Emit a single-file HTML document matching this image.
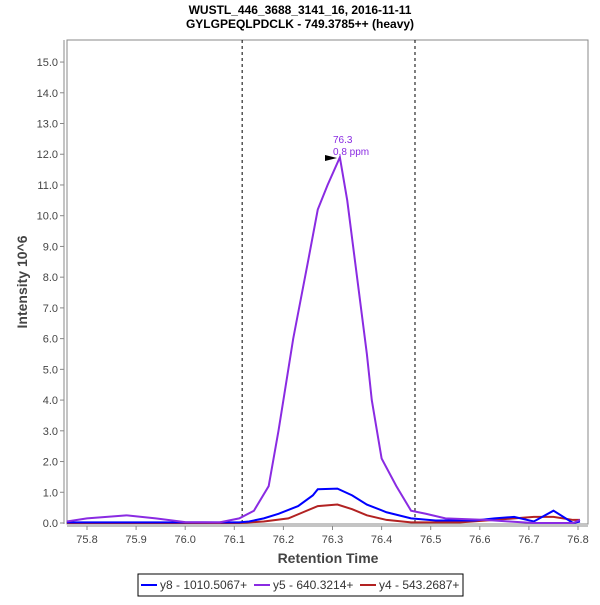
<!DOCTYPE html>
<html><head><meta charset="utf-8"><style>
body{margin:0;background:#fff;font-family:"Liberation Sans",sans-serif}
svg text{font-family:"Liberation Sans",sans-serif}
</style></head><body>
<svg id="c" width="600" height="600">
<text x="300" y="14" text-anchor="middle" font-size="12" font-weight="bold" fill="#000">WUSTL_446_3688_3141_16, 2016-11-11</text>
<text x="300" y="28" text-anchor="middle" font-size="12" font-weight="bold" fill="#000">GYLGPEQLPDCLK - 749.3785++ (heavy)</text>
<rect x="67" y="40" width="521" height="484" fill="#fff" stroke="#888"/>
<g id="axes"></g><g id="series"></g>
<text x="328" y="563" text-anchor="middle" font-size="14" font-weight="bold" fill="#444">Retention Time</text>
<text transform="translate(27,282) rotate(-90)" text-anchor="middle" font-size="14" font-weight="bold" fill="#444">Intensity 10^6</text>
<text x="333" y="143" font-size="10" fill="#8a2be2">76.3</text>
<text x="333" y="155" font-size="10" fill="#8a2be2">0.8 ppm</text>
<polygon points="325,155 337,158 325,161" fill="#000"/>
<g>
<rect x="138" y="574" width="325" height="22" fill="#fff" stroke="#000"/>
<line x1="141" y1="585" x2="157" y2="585" stroke="#0000ff" stroke-width="2"/>
<text x="160" y="589" font-size="12" fill="#333">y8 - 1010.5067+</text>
<line x1="254" y1="585" x2="270" y2="585" stroke="#8a2be2" stroke-width="2"/>
<text x="273" y="589" font-size="12" fill="#333">y5 - 640.3214+</text>
<line x1="360" y1="585" x2="376" y2="585" stroke="#b22222" stroke-width="2"/>
<text x="379" y="589" font-size="12" fill="#333">y4 - 543.2687+</text>
</g>
</svg>
<script>
const xTicks=[75.8,75.9,76.0,76.1,76.2,76.3,76.4,76.5,76.6,76.7,76.8];
const yTicks=[0,1,2,3,4,5,6,7,8,9,10,11,12,13,14,15];
const boundaries=[76.116,76.468];
const y5T=[75.759,75.8,75.88,75.94,76.0,76.07,76.11,76.14,76.17,76.19,76.22,76.25,76.27,76.29,76.315,76.33,76.35,76.37,76.38,76.4,76.43,76.46,76.49,76.53,76.61,76.66,76.71,76.79,76.804];
const y5V=[0.05,0.15,0.25,0.15,0.03,0.02,0.15,0.4,1.2,3.0,6.0,8.5,10.2,11.0,11.9,10.5,8.0,5.5,4.0,2.1,1.2,0.4,0.3,0.15,0.1,0.05,0.0,0.0,0.1];
const y8T=[75.759,76.11,76.13,76.16,76.19,76.23,76.26,76.27,76.31,76.34,76.37,76.41,76.46,76.51,76.59,76.63,76.67,76.71,76.75,76.79,76.804];
const y8V=[0.02,0.02,0.05,0.15,0.3,0.55,0.9,1.1,1.12,0.9,0.6,0.35,0.15,0.08,0.08,0.15,0.2,0.05,0.4,0.0,0.05];
const y4T=[75.759,76.11,76.16,76.21,76.24,76.27,76.31,76.34,76.37,76.41,76.46,76.56,76.63,76.71,76.75,76.79,76.804];
const y4V=[0.0,0.0,0.05,0.15,0.35,0.55,0.6,0.45,0.25,0.1,0.02,0.02,0.1,0.2,0.2,0.1,0.1];
const NS='http://www.w3.org/2000/svg';
const X=v=>87+(v-75.8)*491, Y=v=>523-v*30.73;
function mk(t,a,p){const e=document.createElementNS(NS,t);for(const k in a)e.setAttribute(k,a[k]);p.appendChild(e);return e;}
const ax=document.getElementById('axes'), se=document.getElementById('series');
const xl=mk('line',{x1:67,y1:526,x2:588,y2:526,stroke:'#888'},ax);


xTicks.forEach(v=>{
 mk('line',{x1:X(v),y1:526,x2:X(v),y2:530,stroke:'#888'},ax);
 const t=mk('text',{x:X(v),y:543,'text-anchor':'middle','font-size':11,fill:'#444'},ax);t.textContent=v.toFixed(1);
 
 
});
const yl=mk('line',{x1:64,y1:40,x2:64,y2:524,stroke:'#888'},ax);


yTicks.forEach(v=>{
 mk('line',{x1:60,y1:Y(v),x2:64,y2:Y(v),stroke:'#888'},ax);
 const t=mk('text',{x:58,y:Y(v)+4,'text-anchor':'end','font-size':11,fill:'#444'},ax);t.textContent=v.toFixed(1);
 
 
});
boundaries.forEach(v=>{
 const l=mk('line',{x1:X(v),y1:40,x2:X(v),y2:524,stroke:'#000','stroke-dasharray':'3,3'},ax);
 
 
});
function line(T,V,c,n){
 const p=mk('polyline',{points:T.map((t,i)=>X(t)+','+Y(V[i])).join(' '),fill:'none',stroke:c,'stroke-width':2},se);
 
 
}
line(y4T,y4V,'#b22222','series-y4');
line(y8T,y8V,'#0000ff','series-y8');
line(y5T,y5V,'#8a2be2','series-y5');
</script>
</body></html>
